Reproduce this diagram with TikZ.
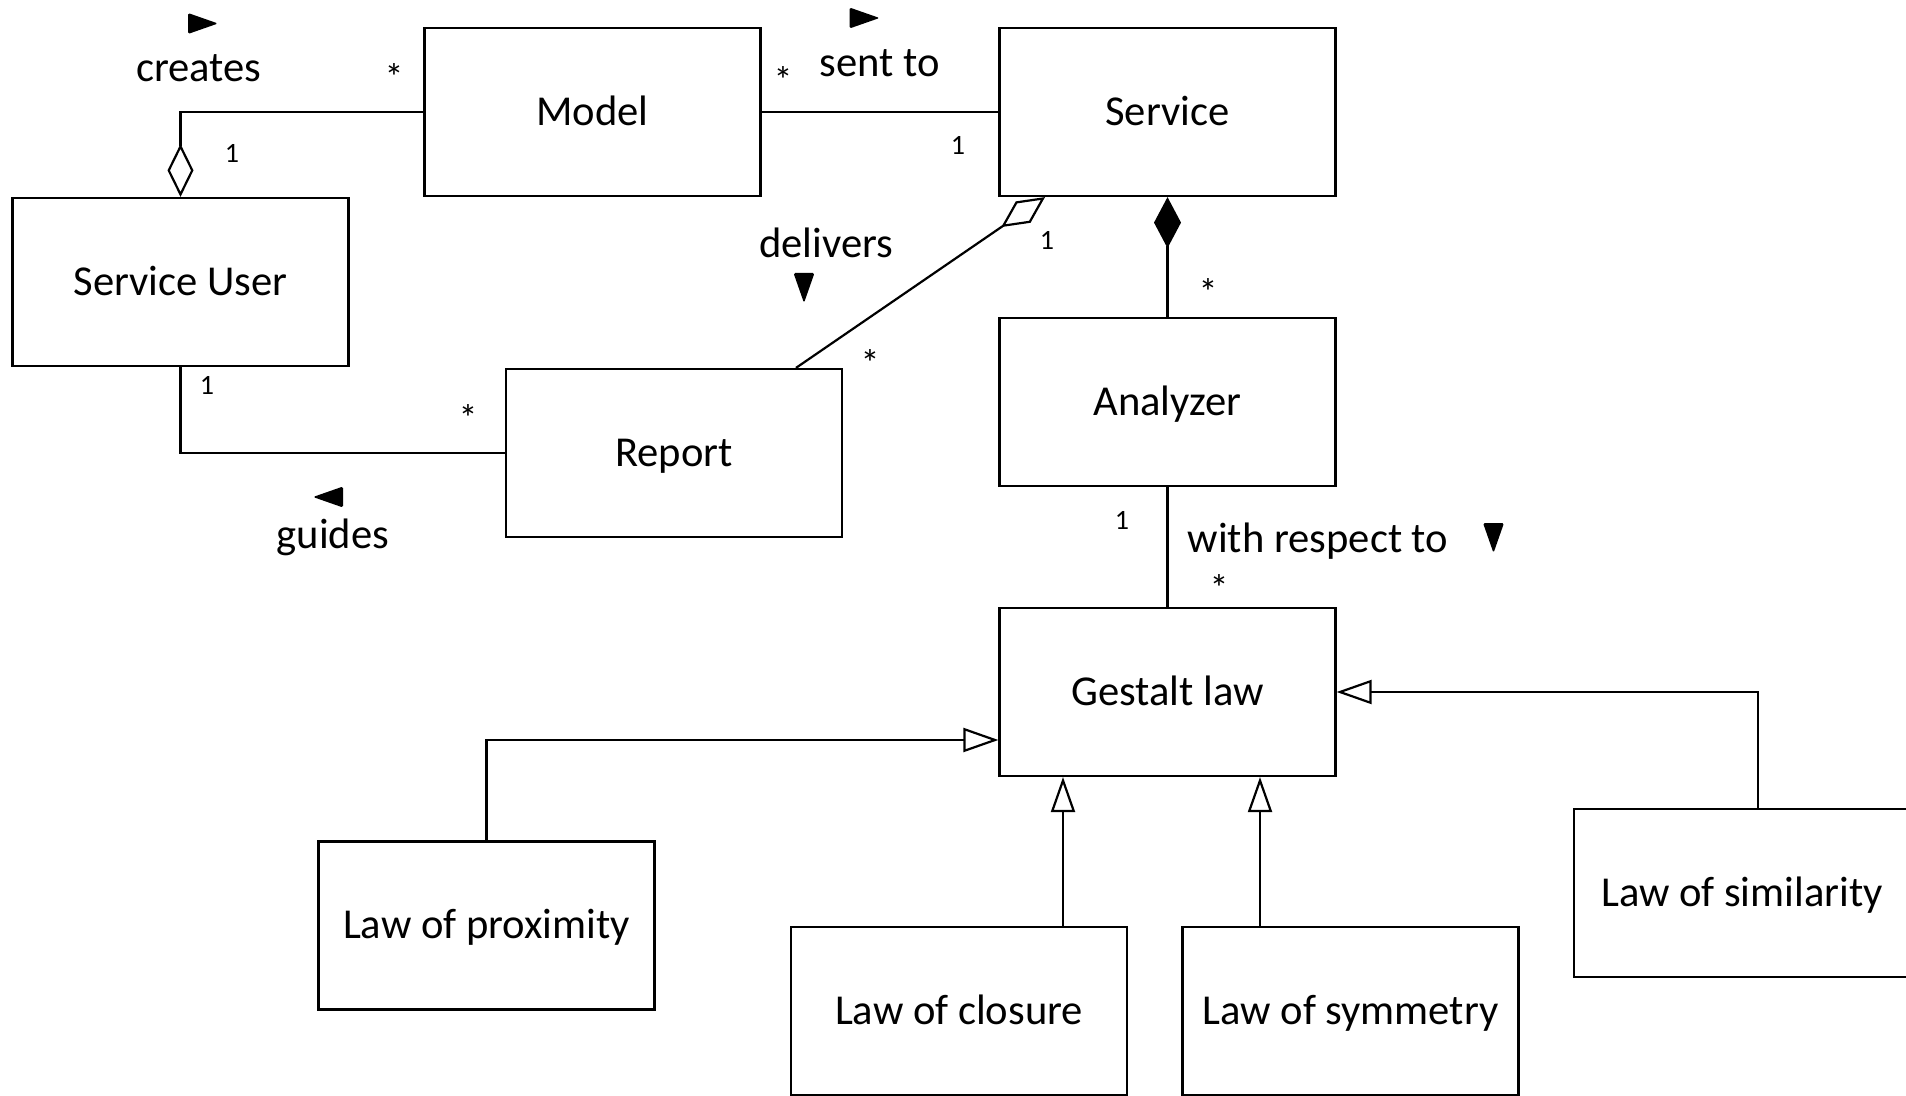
\documentclass[tikz,border=0pt]{standalone}
\usepackage{fontspec}
\setmainfont{Carlito}
\usetikzlibrary{arrows.meta,calc}
\begin{document}
\begin{tikzpicture}[x=0.5pt,y=-0.5pt,
  line width=1.1pt,
  cls/.style={draw, rectangle, minimum width=168pt, minimum height=84pt, inner sep=0pt,
    font=\fontsize{21.3}{25}\selectfont, text height=17.5pt, text depth=4.3pt},
  lbl/.style={inner sep=0pt, anchor=base, font=\fontsize{21.3}{25}\selectfont},
  mult/.style={inner sep=0pt, anchor=base, font=\fontsize{14}{16}\selectfont},
  many/.style={inner sep=0pt, anchor=base, font=\fontsize{19}{21}\selectfont},
  aggr/.style={-{Diamond[open,length=26.5pt,width=13pt]}},
  comp/.style={-{Diamond[length=25.5pt,width=13.5pt]}},
  gen/.style={-{Triangle[open,length=17.5pt,width=12pt]}},
  dirmark/.pic={\fill[rounded corners=0.8pt] (15,0) -- (-15,-10.5) -- (-15,10.5) -- cycle;}
]
\useasboundingbox (0,0) rectangle (1906,1096);

% classes
\node[cls] (model)      at (592.5,112)  {Model};
\node[cls] (service)    at (1167.5,112) {Service};
\node[cls] (user)       at (180.5,282)  {Service User};
\node[cls] (report)     at (674,453)    {Report};
\node[cls] (analyzer)   at (1167.5,402) {Analyzer};
\node[cls] (gestalt)    at (1167.5,692) {Gestalt law};
\node[cls] (proximity)  at (486.5,925.5){Law of proximity};
\node[cls] (closure)    at (959,1011)   {Law of closure};
\node[cls] (symmetry)   at (1350.5,1011){Law of symmetry};
\node[cls] (similarity) at (1742,893)   {Law of similarity};

% attachment points off the box centres
\coordinate (repfoot) at ($(report.north)+(122,0)$);
\coordinate (srvfoot) at ($(service.south)+(-122.5,0)$);
\coordinate (proxin)  at ($(gestalt.west)+(0,48)$);
\coordinate (clfoot)  at ($(closure.north)+(104,0)$);
\coordinate (syfoot)  at ($(symmetry.north)+(-90.5,0)$);
\coordinate (sifoot)  at ($(similarity.north)+(16,0)$);

% associations
\draw[aggr] (model.west) -| (user.north);
\draw (model.east) -- (service.west);
\draw (user.south) |- (report.west);
\draw[aggr] (repfoot) -- (srvfoot);
\draw[comp] (analyzer.north) -- (service.south);
\draw (analyzer.south) -- (gestalt.north);

% generalizations
\draw[gen] (proximity.north) |- (proxin);
\draw[gen] (clfoot) -- (clfoot |- gestalt.south);
\draw[gen] (syfoot) -- (syfoot |- gestalt.south);
\draw[gen] (sifoot) |- (gestalt.east);

% association names and reading directions
\node[lbl] (tcreates) at (199,82) {creates};
\pic at (203,23.5) {dirmark};
\node[lbl] (tsent) at (880,77) {sent to};
\pic at (864.5,18) {dirmark};
\node[lbl] (tguides) at (333,548) {guides};
\pic[rotate=180] at (328,497) {dirmark};
\node[lbl] (tdelivers) at (826,258) {delivers};
\pic[rotate=-90] at (804,288) {dirmark};
\node[lbl] (trespect) at (1318,552) {with respect to};
\pic[rotate=-90] at (1493.5,538) {dirmark};

% multiplicities
\node[many] (m1)  at (394,91)   {*};
\node[mult] (m2)  at (232,163)  {1};
\node[mult] (m3)  at (207,395)  {1};
\node[many] (m4)  at (468,432)  {*};
\node[many] (m5)  at (783,94)   {*};
\node[mult] (m6)  at (958,155)  {1};
\node[mult] (m7)  at (1047,250) {1};
\node[many] (m8)  at (870,377)  {*};
\node[many] (m9)  at (1208,306) {*};
\node[mult] (m10) at (1122,530) {1};
\node[many] (m11) at (1219,601) {*};
\end{tikzpicture}
\end{document}
